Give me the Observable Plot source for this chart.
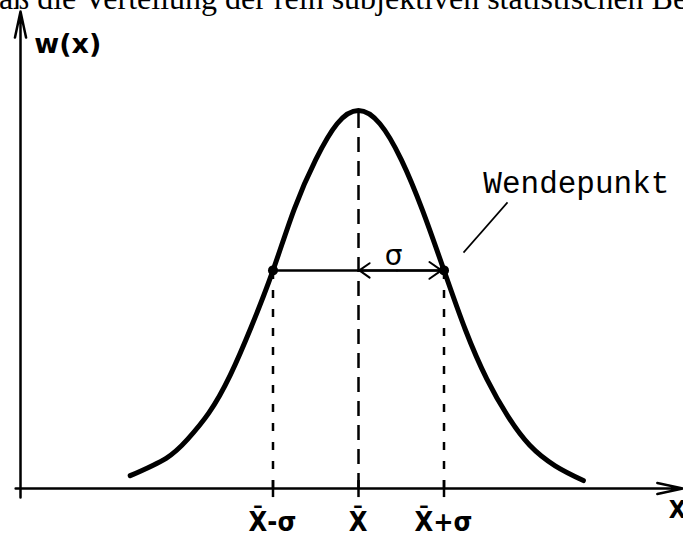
<!DOCTYPE html>
<html><head><meta charset="utf-8">
<script src="https://cdn.jsdelivr.net/npm/d3@7"></script>
<script src="https://cdn.jsdelivr.net/npm/@observablehq/plot@0.6"></script>
<style>
html,body{margin:0;padding:0;background:#fff;overflow:hidden;}
#wrap{position:relative;width:683px;height:536px;overflow:hidden;}
#cut{position:absolute;left:-17px;top:-17px;font:32px "Liberation Serif";line-height:30px;white-space:nowrap;color:#000;z-index:2;}
</style></head><body>
<div id="wrap"><div id="cut">daß die Verteilung der rein subjektiven statistischen Beobachtungsfehler</div></div>
<script>
// Curve: position in units of sigma from the mean, height relative to peak
const curveU = [-2.67, -2.25, -2.0, -1.75, -1.5, -1.25, -1.0, -0.75, -0.5, -0.25, 0, 0.25, 0.5, 0.75, 1.0, 1.25, 1.5, 1.75, 2.0, 2.3, 2.63];
const curveW = [0.034, 0.08, 0.13, 0.2, 0.3, 0.43, 0.577, 0.74, 0.87, 0.965, 1.0, 0.965, 0.87, 0.735, 0.577, 0.42, 0.29, 0.19, 0.115, 0.06, 0.021];
const tickU = [-1, 0, 1];
const tickLabels = ["X\u0304-σ", "X\u0304", "X\u0304+σ"];
const inflectionU = [-1, 1];
const inflectionW = 0.577;
const peakW = 1.0;
const yLabel = "w(x)";
const xLabel = "X";
const sigmaLabel = "σ";
const noteLabel = "Wendepunkt";

const curve = curveU.map((u, i) => ({u, w: curveW[i]}));
const ticks = tickU.map((u, i) => ({u, label: tickLabels[i], dx: [-17, -2, 18][i]}));

const chart = Plot.plot({
  width: 683, height: 536,
  marginTop: 0, marginRight: 0, marginBottom: 0, marginLeft: 0,
  x: {domain: [-4.187, 3.801], range: [0, 683], axis: null},
  y: {domain: [-0.127, 1.291], range: [536, 0], axis: null},
  style: {background: "white"},
  marks: [
    // axes
    Plot.arrow([0], {x1: -3.953, y1: -0.024, x2: -3.953, y2: 1.262, stroke: "black", strokeWidth: 2.5, headLength: 16, headAngle: 24}),
    Plot.arrow([0], {x1: -4.01, y1: 0, x2: 3.80, y2: 0, stroke: "black", strokeWidth: 2.5, headLength: 16, headAngle: 24}),
    Plot.ruleX(ticks, {x: "u", y1: -0.024, y2: 0.021, stroke: "black", strokeWidth: 2.5}),
    // dashed guides
    Plot.ruleX([0], {x: d => d, y1: 0, y2: peakW, stroke: "black", strokeWidth: 2.5, strokeDasharray: "15,9"}),
    Plot.ruleX(inflectionU, {x: d => d, y1: 0, y2: inflectionW, stroke: "black", strokeWidth: 2.5, strokeDasharray: "8,11"}),
    // sigma span
    Plot.ruleY([inflectionW], {y: d => d, x1: -1, x2: 1, stroke: "black", strokeWidth: 2.5}),
    Plot.arrow([0], {x1: 0.45, y1: inflectionW, x2: 0.01, y2: inflectionW, stroke: "black", strokeWidth: 2, headLength: 11, headAngle: 70}),
    Plot.arrow([0], {x1: 0.45, y1: inflectionW, x2: 0.97, y2: inflectionW, stroke: "black", strokeWidth: 2, headLength: 11, headAngle: 70}),
    // curve
    Plot.line(curve, {x: "u", y: "w", curve: "natural", stroke: "black", strokeWidth: 5, strokeLinecap: "round"}),
    Plot.dot(inflectionU, {x: d => d, y: inflectionW, r: 5, fill: "black"}),
    // leader to inflection point
    Plot.link([0], {x1: 1.743, y1: 0.757, x2: 1.228, y2: 0.624, stroke: "black", strokeWidth: 1.6}),
    // texts
    Plot.text([noteLabel], {x: 1.46, y: 0.807, text: d => d, textAnchor: "start", fontSize: 31, fontFamily: "Liberation Mono", fill: "black"}),
    Plot.text([sigmaLabel], {x: 0.41, y: 0.615, text: d => d, fontSize: 28, fontFamily: "DejaVu Sans", fill: "black"}),
    Plot.text([yLabel], {x: -3.40, y: 1.175, text: d => d, fontSize: 27, fontFamily: "DejaVu Sans", fontWeight: "bold", fill: "black"}),
    Plot.text(ticks, {x: "u", y: -0.09, dx: "dx", text: "label", fontSize: 27, fontFamily: "DejaVu Sans Condensed, DejaVu Sans", fontWeight: "bold", fill: "black"}),
    Plot.text([xLabel], {x: 3.73, y: -0.058, text: d => d, fontSize: 25, fontFamily: "DejaVu Sans Condensed, DejaVu Sans", fontWeight: "bold", fill: "black"})
  ]
});
document.getElementById("wrap").appendChild(chart);
</script>
</body></html>
